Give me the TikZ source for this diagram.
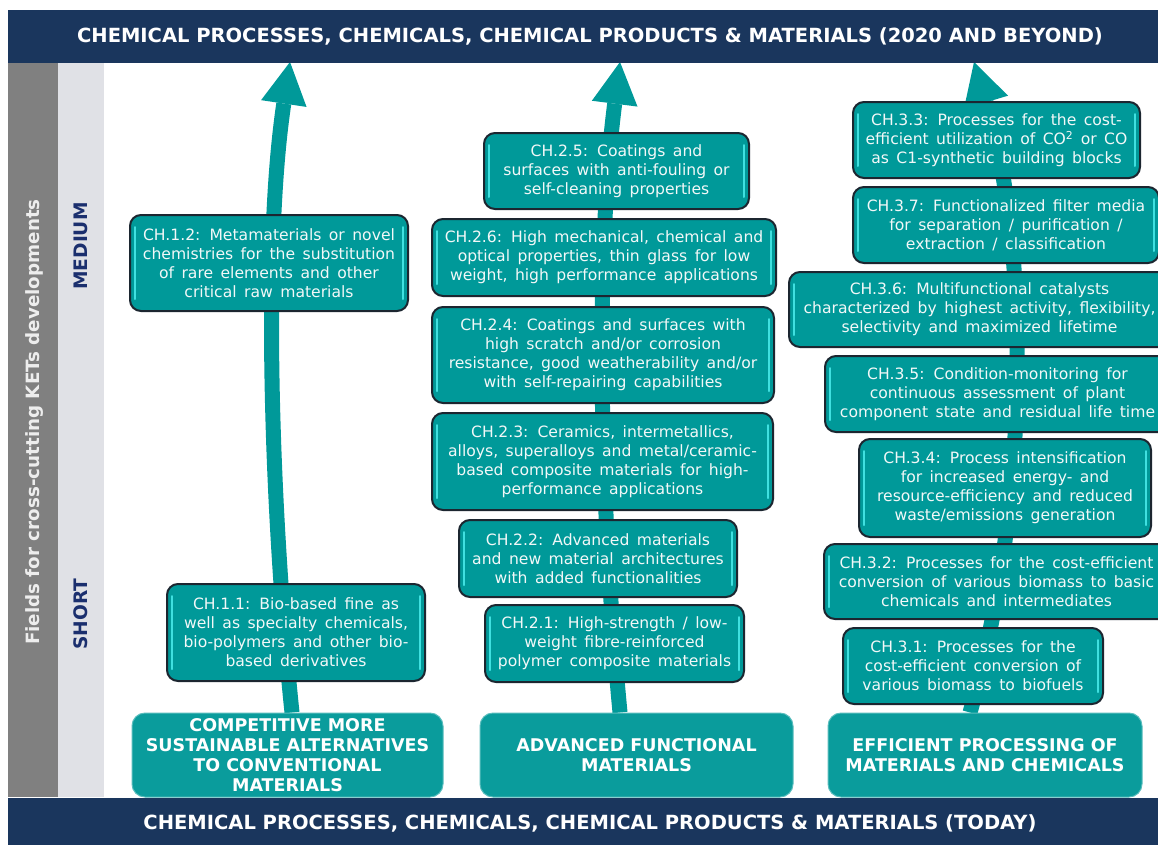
\documentclass[tikz,border=0pt]{standalone}
\usepackage{fontspec}
\setmainfont{DejaVu Sans}
\newfontfamily\boxfont{DejaVu Sans}[WordSpace=1.5]
\usetikzlibrary{arrows.meta}

\definecolor{navy}{HTML}{1A365D}
\definecolor{barGray}{HTML}{808080}
\definecolor{barLight}{HTML}{E0E1E6}
\definecolor{tealFill}{HTML}{009999}
\definecolor{tealCat}{HTML}{0A9C9C}
\definecolor{boxEdge}{HTML}{1C2630}
\definecolor{boxHi}{HTML}{40E0E0}
\definecolor{boxText}{HTML}{F2F8F8}
\definecolor{termText}{HTML}{1B2F6E}
\definecolor{fieldText}{HTML}{EDEDED}

\pgfdeclarelayer{shafts}
\pgfsetlayers{shafts,main}

\tikzset{
  chbox/.style={draw=boxEdge, line width=2pt, fill=tealFill, rounded corners=11pt,
    text=boxText, font=\boxfont\fontsize{15.6}{19}\selectfont, align=center, inner sep=0pt,
    path picture={
      \draw[boxHi, line width=2pt, line cap=round]
        ([xshift=5pt,yshift=-12pt]path picture bounding box.north west) --
        ([xshift=5pt,yshift=12pt]path picture bounding box.south west);
      \draw[boxHi, line width=2pt, line cap=round]
        ([xshift=-5pt,yshift=-12pt]path picture bounding box.north east) --
        ([xshift=-5pt,yshift=12pt]path picture bounding box.south east);
    }},
  catbox/.style={fill=tealCat, draw=tealFill!65!white, line width=1pt, rounded corners=13pt,
    text=white, font=\bfseries\fontsize{17.5}{20}\selectfont, align=center, inner sep=0pt},
  banner/.style={fill=navy, text=white, font=\bfseries\fontsize{19.5}{23}\selectfont, inner sep=0pt},
  flow/.style={draw=tealFill, line width=15pt,
    -{Triangle[width=46pt,length=42pt,line width=0pt]}},
  term/.style={rotate=90, text=termText, font=\bfseries\fontsize{18.6}{22}\selectfont, inner sep=0pt},
}

\begin{document}
\begin{tikzpicture}[x=1pt, y=-1pt]
\useasboundingbox (0,0) rectangle (1158,844);
\begin{pgfonlayer}{shafts}
  \fill[white] (0,0) rectangle (1158,844);
\end{pgfonlayer}
\clip (0,0) rectangle (1158,844);

% horizon banners
\node[banner, minimum width=1164pt, minimum height=53pt] (future) at (590,36.5)
  {CHEMICAL PROCESSES, CHEMICALS, CHEMICAL PRODUCTS \& MATERIALS (2020 AND BEYOND)};
\node[banner, minimum width=1164pt, minimum height=50pt] (today) at (590,823)
  {CHEMICAL PROCESSES, CHEMICALS, CHEMICAL PRODUCTS \& MATERIALS (TODAY)};

% side bars with the time scale
\fill[barGray] (8,63) rectangle (58,797);
\fill[barLight] (58,63) rectangle (104,797);
\node[rotate=90, text=fieldText, font=\bfseries\fontsize{18.3}{22}\selectfont, inner sep=0pt]
  (fields) at (35,422) {Fields for cross-cutting KETs developments};
\node[term] (medium) at (81,246) {MEDIUM};
\node[term] (short) at (81,614) {SHORT};

% arrow targets under the top banner
\coordinate (tip1) at (290,62);
\coordinate (tip2) at (620,62);
\coordinate (tip3) at (974,62);

% starting areas
\node[catbox, minimum width=311pt, minimum height=84pt] (cat1) at (287.5,755)
  {COMPETITIVE MORE\\SUSTAINABLE ALTERNATIVES\\TO CONVENTIONAL\\MATERIALS};
\node[catbox, minimum width=313pt, minimum height=84pt] (cat2) at (636.5,755)
  {ADVANCED FUNCTIONAL\\MATERIALS};
\node[catbox, minimum width=314pt, minimum height=84pt] (cat3) at (985,755)
  {EFFICIENT PROCESSING OF\\MATERIALS AND CHEMICALS};

% column 1
\node[chbox, minimum width=258pt, minimum height=97pt] (c11) at (296,632.5)
  {CH.1.1: Bio-based fine as\\well as specialty chemicals,\\bio-polymers and other bio-\\based derivatives};
\node[chbox, minimum width=278pt, minimum height=96pt] (c12) at (269,263)
  {CH.1.2: Metamaterials or novel\\chemistries for the substitution\\of rare elements and other\\critical raw materials};

% column 2
\node[chbox, minimum width=259pt, minimum height=77pt] (c21) at (614.5,643.5)
  {CH.2.1: High-strength / low-\\weight fibre-reinforced\\polymer composite materials};
\node[chbox, minimum width=278pt, minimum height=77pt] (c22) at (598,558.5)
  {CH.2.2: Advanced materials\\and new material architectures\\with added functionalities};
\node[chbox, minimum width=341pt, minimum height=97pt] (c23) at (602.5,461.5)
  {CH.2.3: Ceramics, intermetallics,\\alloys, superalloys and metal/ceramic-\\based composite materials for high-\\performance applications};
\node[chbox, minimum width=342pt, minimum height=96pt] (c24) at (603,355)
  {CH.2.4: Coatings and surfaces with\\high scratch and/or corrosion\\resistance, good weatherability and/or\\with self-repairing capabilities};
\node[chbox, minimum width=344pt, minimum height=77pt] (c26) at (604,257.5)
  {CH.2.6: High mechanical, chemical and\\optical properties, thin glass for low\\weight, high performance applications};
\node[chbox, minimum width=265pt, minimum height=76pt] (c25) at (616.5,171)
  {CH.2.5: Coatings and\\surfaces with anti-fouling or\\self-cleaning properties};

% column 3
\node[chbox, minimum width=260pt, minimum height=76pt] (c31) at (973,666)
  {CH.3.1: Processes for the\\cost-efficient conversion of\\various biomass to biofuels};
\node[chbox, minimum width=345pt, minimum height=75pt] (c32) at (996.5,581.5)
  {CH.3.2: Processes for the cost-efficient\\conversion of various biomass to basic\\chemicals and intermediates};
\node[chbox, minimum width=292pt, minimum height=98pt] (c34) at (1005,488)
  {CH.3.4: Process intensification\\for increased energy- and\\resource-efficiency and reduced\\waste/emissions generation};
\node[chbox, minimum width=345pt, minimum height=76pt] (c35) at (997.5,394)
  {CH.3.5: Condition-monitoring for\\continuous assessment of plant\\component state and residual life time};
\node[chbox, minimum width=381pt, minimum height=75pt] (c36) at (979.5,309.5)
  {CH.3.6: Multifunctional catalysts\\characterized by highest activity, flexibility,\\selectivity and maximized lifetime};
\node[chbox, minimum width=306pt, minimum height=76pt] (c37) at (1006,225)
  {CH.3.7: Functionalized filter media\\for separation / purification /\\extraction / classification};
\node[chbox, minimum width=287pt, minimum height=76pt] (c33) at (996.5,140)
  {CH.3.3: Processes for the cost-\\efficient utilization of CO\textsuperscript{2} or CO\\as C1-synthetic building blocks};

% development arrows behind the boxes
\begin{pgfonlayer}{shafts}
  \draw[flow] ([xshift=4.5pt]cat1.north) .. controls (272,520) and (262,250) .. (tip1);
  \draw[flow] ([xshift=-16.5pt]cat2.north) .. controls (598,480) and (596,250) .. (tip2);
  \draw[flow] ([xshift=-15pt]cat3.north) .. controls (1030,500) and (1030,250) .. (tip3);
\end{pgfonlayer}
\end{tikzpicture}
\end{document}
